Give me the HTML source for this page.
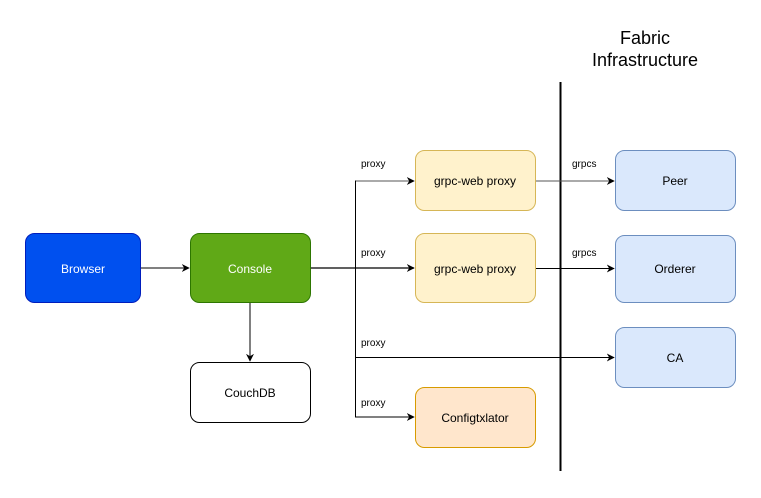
<!DOCTYPE html>
<html><head><meta charset="utf-8"><style>
html,body{margin:0;padding:0;background:#fff;}
svg{display:block;font-family:"Liberation Sans",Arial,sans-serif;}
</style></head><body>
<svg width="761" height="498" viewBox="0 0 761 498" xmlns="http://www.w3.org/2000/svg">
<defs>
<marker id="a" viewBox="0 0 10 10" refX="9" refY="5" markerWidth="8" markerHeight="8" orient="auto" markerUnits="userSpaceOnUse">
<path d="M0,0 L10,5 L0,10 L3,5 z" fill="#000"/></marker>
</defs>
<text x="645" y="44" font-size="18" text-anchor="middle">Fabric</text>
<text x="645" y="66" font-size="18" text-anchor="middle">Infrastructure</text>
<line x1="560.5" y1="82" x2="560.5" y2="471" stroke="#000" stroke-width="2"/>
<g fill="none" stroke="#000" stroke-width="1">
<line x1="140" y1="268" x2="189" y2="268" marker-end="url(#a)"/>
<line x1="250" y1="303" x2="250" y2="361" marker-end="url(#a)"/>
<line x1="310" y1="268" x2="414" y2="268" marker-end="url(#a)" stroke-width="1.3"/>
<polyline points="414,181 355.5,181 355.5,417 414,417"/>
<path d="M356,181 L414,181" marker-end="url(#a)" stroke="#555"/>
<path d="M356,417 L414,417" marker-end="url(#a)"/>
<line x1="355.5" y1="357.5" x2="614" y2="357.5" marker-end="url(#a)"/>
<line x1="536" y1="181" x2="614" y2="181" marker-end="url(#a)" stroke="#555"/>
<line x1="536" y1="268.5" x2="614" y2="268.5" marker-end="url(#a)"/>
</g>
<g font-size="10" fill="#000">
<text x="361" y="167">proxy</text>
<text x="361" y="256">proxy</text>
<text x="361" y="346">proxy</text>
<text x="361" y="406">proxy</text>
<text x="572" y="167">grpcs</text>
<text x="572" y="256">grpcs</text>
</g>
<g font-size="12" text-anchor="middle">
<rect x="25.5" y="233.5" width="115" height="69" rx="9" fill="#0050ef" stroke="#001dbc"/>
<text x="83" y="273" fill="#fff">Browser</text>
<rect x="190.5" y="233.5" width="120" height="69" rx="9" fill="#60a917" stroke="#2d7600"/>
<text x="250" y="273" fill="#fff">Console</text>
<rect x="190.5" y="362.5" width="120" height="60" rx="9" fill="#fff" stroke="#000"/>
<text x="250" y="397">CouchDB</text>
<rect x="415.5" y="150.5" width="120" height="60" rx="9" fill="#fff2cc" stroke="#d6b656"/>
<text x="475" y="185">grpc-web proxy</text>
<rect x="415.5" y="233.5" width="120" height="69" rx="9" fill="#fff2cc" stroke="#d6b656"/>
<text x="475" y="273">grpc-web proxy</text>
<rect x="415.5" y="387.5" width="120" height="60" rx="9" fill="#ffe6cc" stroke="#d79b00"/>
<text x="475" y="422">Configtxlator</text>
<rect x="615.5" y="150.5" width="120" height="60" rx="9" fill="#dae8fc" stroke="#6c8ebf"/>
<text x="675" y="185">Peer</text>
<rect x="615.5" y="235.5" width="120" height="67" rx="9" fill="#dae8fc" stroke="#6c8ebf"/>
<text x="675" y="273">Orderer</text>
<rect x="615.5" y="327.5" width="120" height="60" rx="9" fill="#dae8fc" stroke="#6c8ebf"/>
<text x="675" y="362">CA</text>
</g>
</svg>
</body></html>
